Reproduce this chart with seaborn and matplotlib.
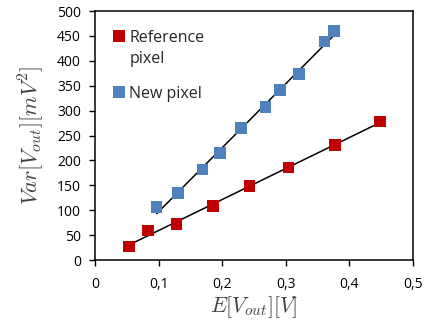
import numpy as np
import pandas as pd
import matplotlib
matplotlib.use('Agg')
import matplotlib.pyplot as plt
from matplotlib.lines import Line2D
from matplotlib.legend_handler import HandlerLine2D
import seaborn as sns

sns.set_style('ticks')
plt.rcParams['font.family'] = ['Open Sans', 'DejaVu Sans']
plt.rcParams['mathtext.fontset'] = 'cm'

ref_x = [0.053, 0.083, 0.128, 0.186, 0.243, 0.304, 0.377, 0.448]
ref_y = [27, 59, 72, 109, 148, 186, 231, 278]
new_x = [0.097, 0.131, 0.169, 0.197, 0.230, 0.268, 0.291, 0.321, 0.361, 0.376]
new_y = [106, 134, 182, 215, 265, 307, 341, 373, 439, 460]

x_ticks = [0, 0.1, 0.2, 0.3, 0.4, 0.5]
x_ticklabels = ['0', '0,1', '0,2', '0,3', '0,4', '0,5']
y_ticks = [0, 50, 100, 150, 200, 250, 300, 350, 400, 450, 500]

colors = {'Reference\npixel': '#C00000', 'New pixel': '#4F81BD'}

df = pd.DataFrame({
    'x': ref_x + new_x,
    'y': ref_y + new_y,
    'series': ['Reference\npixel'] * len(ref_x) + ['New pixel'] * len(new_x),
})


class ShiftedHandler(HandlerLine2D):
    # puts the marker next to the first line of a two line label
    def __init__(self, dy=0, **kw):
        super().__init__(**kw)
        self.dy = dy

    def create_artists(self, legend, orig_handle, xdescent, ydescent,
                       width, height, fontsize, trans):
        arts = super().create_artists(legend, orig_handle, xdescent, ydescent,
                                      width, height, fontsize, trans)
        for a in arts:
            a.set_ydata(np.asarray(a.get_ydata()) + self.dy)
        return arts


fig = plt.figure(figsize=(4.29, 3.24), dpi=100)
ax = fig.add_axes([0.2214, 0.1975, 0.7413, 0.7685])

for name in colors:
    sub = df[df['series'] == name]
    sns.regplot(x='x', y='y', data=sub, ax=ax, scatter=False, ci=None,
                line_kws={'color': 'black', 'lw': 1.1})

sns.scatterplot(x='x', y='y', hue='series', data=df, ax=ax, marker='s', s=70,
                palette=colors, edgecolor='none', zorder=3, legend=False)

ax.set_xlim(0, 0.5)
ax.set_ylim(0, 500)
ax.set_xticks(x_ticks)
ax.set_xticklabels(x_ticklabels)
ax.set_yticks(y_ticks)
ax.tick_params(direction='out', length=4, width=1, labelsize=10, colors='black')
ax.tick_params(axis='x', pad=8)
ax.tick_params(axis='y', pad=6)
for s in ax.spines.values():
    s.set_linewidth(1.1)
    s.set_color('black')

ax.set_xlabel(r'$E[V_{out}][V]$', fontsize=15.5, color='#404040', labelpad=2)
ax.set_ylabel(r'$Var[V_{out}][mV^2]$', fontsize=16, color='#404040', labelpad=8)

handles = [Line2D([], [], marker='s', ls='', color=c, markersize=8.5, markeredgewidth=0)
           for c in colors.values()]
leg = ax.legend(handles, list(colors.keys()), loc='upper left',
                bbox_to_anchor=(0.01, 0.975), frameon=False,
                fontsize=11.5, handletextpad=0.15, handlelength=1.0,
                borderaxespad=0.4, labelspacing=1.15,
                handler_map={handles[0]: ShiftedHandler(dy=9.5)})
for t in leg.get_texts():
    t.set_linespacing(1.45)

fig.savefig('out.png', dpi=100)
